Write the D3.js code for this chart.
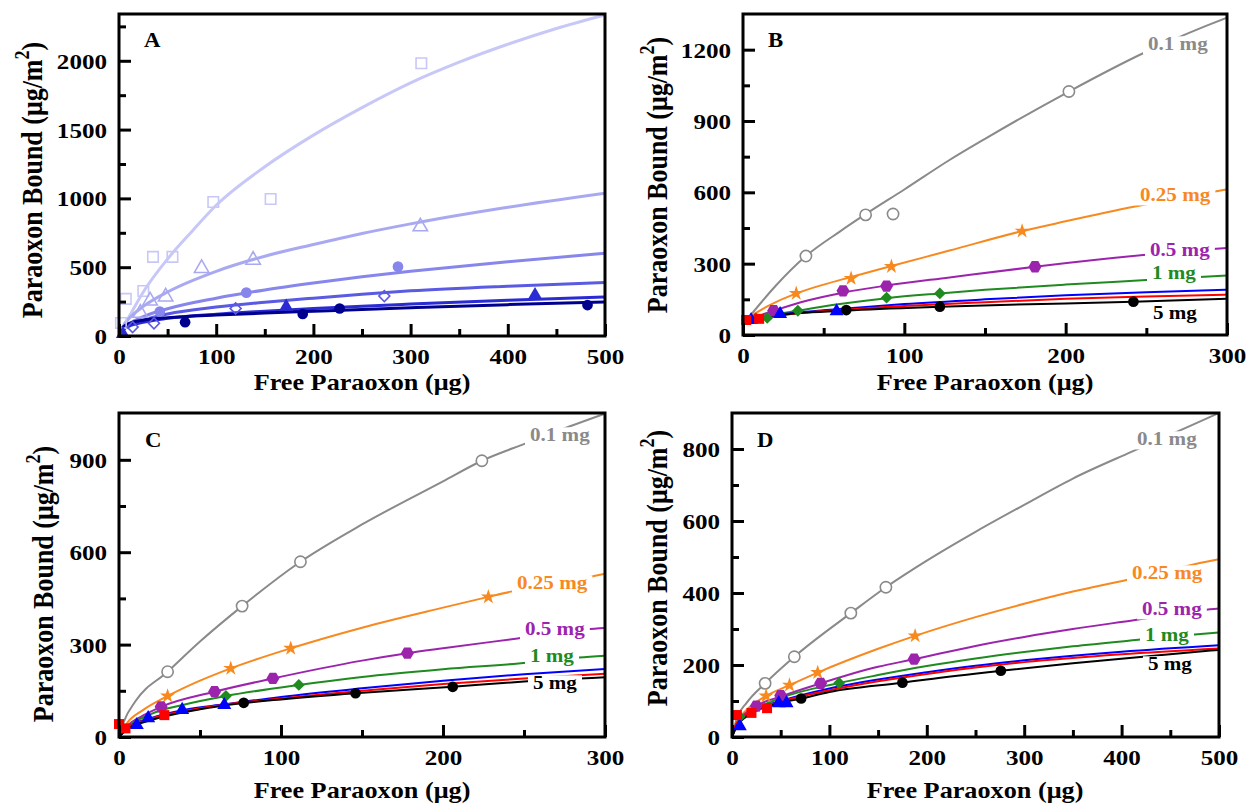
<!DOCTYPE html>
<html>
<head>
<meta charset="utf-8">
<script src="https://cdn.jsdelivr.net/npm/d3@7"></script>
<style>
  body { margin: 0; background: #fff; }
  svg { display: block; }
  svg text { font-family: 'Liberation Serif', 'Times New Roman', serif; font-weight: bold; }
</style>
</head>
<body>
<div id="chart"></div>
<script>
// ---------- data ----------

// Panel A: six loadings, lightest to darkest blue
const fitsA = [
  [[0,0],[5,70],[10,135],[25,320],[50,560],[75,760],[100,950],[150,1230],[200,1460],[250,1660],[300,1840],[350,1990],[400,2120],[450,2235],[500,2334]],
  [[0,0],[5,80],[10,125],[25,215],[50,320],[100,470],[150,580],[200,665],[250,745],[300,815],[400,935],[500,1037]],
  [[0,0],[5,55],[10,85],[25,140],[50,198],[100,275],[150,335],[200,385],[250,430],[300,470],[400,540],[500,601]],
  [[0,0],[5,50],[10,75],[25,115],[50,160],[100,210],[150,245],[200,275],[250,303],[300,328],[400,362],[500,388]],
  [[0,0],[3,40],[10,70],[25,100],[50,128],[100,158],[150,180],[200,200],[250,217],[300,232],[400,260],[500,283]],
  [[0,0],[3,55],[10,90],[25,115],[50,132],[100,152],[150,167],[200,180],[250,193],[300,205],[400,228],[500,248]]
];
const ptsA = [
  [[2,95],[7,270],[25,327],[35,575],[55,575],[97,974],[156,996],[311,1982]],
  [[22,167],[32,256],[48,285],[85,492],[138,552],[310,795]],
  [[42,177],[131,315],[287,504]],
  [[14,65],[36,92],[120,200],[273,290]],
  [[4,15],[172,213],[428,298]],
  [[68,100],[189,160],[227,200],[482,225]]
];

// Panels B-D: seven loadings
const seriesLabels = ["0.1 mg", "0.25 mg", "0.5 mg", "1 mg", "", "", "5 mg"];

const fitsB = [
  [[4,77],[20,205],[39,332],[60,435],[76,508],[100,612],[128,736],[150,825],[202,1024],[248,1185],[287,1300],[300,1335]],
  [[3,72],[15,120],[33,175],[50,212],[67,244],[92,290],[128,355],[173,437],[200,478],[243,540],[290,600],[300,612]],
  [[3,65],[19,102],[40,145],[62,178],[89,208],[128,242],[181,287],[248,336],[291,362],[300,366]],
  [[3,60],[8,68],[15,80],[34,102],[60,130],[89,155],[122,175],[150,190],[200,212],[250,231],[283,244],[300,250]],
  [[3,62],[10,72],[25,88],[58,108],[100,130],[150,150],[200,167],[250,180],[300,190]],
  [[2,60],[10,68],[30,88],[60,105],[100,122],[150,138],[200,152],[250,162],[300,170]],
  [[2,58],[20,82],[64,103],[122,119],[200,133],[242,140],[300,152]]
];
const ptsB = [
  [[39,332],[76,505],[93,509],[202,1024]],
  [[33,175],[67,238],[92,288],[173,437]],
  [[19,102],[62,186],[89,206],[181,287]],
  [[8,70],[15,72],[34,102],[89,157],[122,175]],
  [[5,63],[23,88],[58,100]],
  [[2,63],[10,68]],
  [[64,105],[122,119],[242,140]]
];

const fitsC = [
  [[0,0],[3,50],[10,115],[30,212],[50,310],[76,425],[112,569],[150,690],[200,830],[224,897],[252,955],[278,1008],[300,1050]],
  [[0,0],[5,45],[15,88],[30,133],[50,183],[69,223],[106,288],[150,355],[200,420],[228,455],[242,472],[291,520],[300,530]],
  [[0,0],[5,35],[15,70],[26,98],[59,147],[95,190],[150,248],[178,272],[200,288],[246,320],[289,350],[300,354]],
  [[0,0],[5,30],[20,75],[40,105],[66,133],[111,169],[150,195],[200,220],[252,241],[284,258],[300,264]],
  [[0,0],[5,28],[20,62],[40,88],[65,106],[100,130],[150,158],[200,183],[250,204],[300,221]],
  [[0,0],[5,30],[20,60],[50,93],[100,125],[150,150],[200,172],[250,190],[300,205]],
  [[0,0],[5,25],[20,55],[50,90],[77,110],[100,122],[146,142],[206,163],[250,180],[300,194]]
];
const ptsC = [
  [[30,212],[76,425],[112,569],[224,897]],
  [[30,133],[69,223],[106,288],[228,455]],
  [[26,98],[59,147],[95,190],[178,272]],
  [[66,133],[111,169]],
  [[11,39],[18,61],[39,88],[65,104]],
  [[0,42],[4,28],[28,71]],
  [[77,111],[146,142],[206,163]]
];

const fitsD = [
  [[0,0],[5,52],[15,95],[34,149],[64,223],[122,344],[158,416],[200,490],[250,570],[300,645],[350,718],[410,792],[467,860],[500,900]],
  [[0,0],[5,42],[15,75],[35,114],[59,144],[88,179],[150,245],[188,281],[250,333],[300,370],[350,404],[405,436],[487,487],[500,494]],
  [[0,0],[5,38],[20,78],[52,114],[91,149],[150,195],[187,216],[250,253],[300,278],[350,300],[414,325],[484,353],[500,357]],
  [[0,0],[5,32],[20,70],[50,108],[110,150],[150,172],[200,197],[250,218],[300,236],[350,252],[417,270],[472,284],[500,290]],
  [[0,0],[5,35],[20,70],[50,100],[100,135],[150,160],[200,180],[250,198],[300,213],[400,237],[500,255]],
  [[0,0],[5,40],[20,70],[50,98],[100,130],[150,155],[200,175],[250,193],[300,208],[400,230],[500,246]],
  [[0,0],[5,30],[20,65],[50,95],[71,107],[100,125],[175,151],[200,160],[276,184],[350,205],[422,223],[475,236],[500,242]]
];
const ptsD = [
  [[34,149],[64,223],[122,344],[158,416]],
  [[35,114],[59,144],[88,179],[188,281]],
  [[25,86],[50,115],[91,149],[187,216]],
  [[8,56],[110,150]],
  [[8,30],[48,94],[56,94]],
  [[5,61],[20,67],[36,80]],
  [[71,107],[175,151],[276,184]]
];

// tick values
const xTicks500 = [0,100,200,300,400,500], xMinor500 = [50,150,250,350,450];
const xTicks300 = [0,100,200,300], xMinor300 = [50,150,250];
const yTicksA = [0,500,1000,1500,2000], yMinorA = [250,750,1250,1750,2250];
const yTicksB = [0,300,600,900,1200], yMinorB = [150,450,750,1050];
const yTicksC = [0,300,600,900], yMinorC = [150,450,750];
const yTicksD = [0,200,400,600,800], yMinorD = [100,300,500,700];

// ---------- styles ----------
const SX = 1.14;  // the source figure is stretched sideways
const colorsA = ["#c8c8f8", "#a9a9f2", "#8686ec", "#5a5ae2", "#2b2bd4", "#00008e"];
const markersA = ["squareOpen", "triangleOpen", "circle", "diamondOpen", "triangle", "circle"];
const colorsBCD = ["#8a8a8a", "#f7891f", "#9c24ad", "#1f8a1f", "#0000ff", "#ff0000", "#000000"];
const markersBCD = ["circleOpen", "star", "hexagon", "diamond", "triangle", "square", "circle"];

const symbolHexagon = {
  draw(ctx, size) {
    const r = Math.sqrt(size / (1.5 * Math.sqrt(3)));
    for (let i = 0; i < 6; i++) {
      const a = Math.PI / 3 * i;
      if (i === 0) ctx.moveTo(r * Math.cos(a), r * Math.sin(a));
      else ctx.lineTo(r * Math.cos(a), r * Math.sin(a));
    }
    ctx.closePath();
  }
};
const markerStyles = {
  circleOpen:   { type: d3.symbolCircle,   size: 100, open: true },
  circle:       { type: d3.symbolCircle,   size: 90 },
  star:         { type: d3.symbolStar,     size: 70 },
  hexagon:      { type: symbolHexagon,     size: 110 },
  diamond:      { type: d3.symbolSquare,   size: 70, rotate: 45 },
  triangle:     { type: d3.symbolTriangle, size: 85 },
  square:       { type: d3.symbolSquare,   size: 100 },
  squareOpen:   { type: d3.symbolSquare,   size: 110, open: true },
  triangleOpen: { type: d3.symbolTriangle, size: 90, open: true },
  diamondOpen:  { type: d3.symbolSquare,   size: 60, open: true, rotate: 45 }
};

const svg = d3.select("#chart").append("svg")
  .attr("width", 1249)
  .attr("height", 805);

function drawPanel(cfg) {
  const x = d3.scaleLinear().domain([0, cfg.xMax]).range([cfg.left, cfg.right]);
  const y = d3.scaleLinear().domain([0, cfg.yMax]).range([cfg.bottom, cfg.top]);
  const g = svg.append("g");

  g.append("clipPath").attr("id", "clip" + cfg.id)
    .append("rect")
    .attr("x", cfg.left).attr("y", cfg.top)
    .attr("width", cfg.right - cfg.left).attr("height", cfg.bottom - cfg.top);

  const line = d3.line()
    .x(d => x(d[0]))
    .y(d => y(d[1]))
    .curve(d3.curveMonotoneX);

  // fitted curves
  const lines = g.append("g").attr("clip-path", `url(#clip${cfg.id})`);
  cfg.fits.forEach((f, i) => {
    lines.append("path")
      .attr("d", line(f))
      .attr("fill", "none")
      .attr("stroke", cfg.colors[i])
      .attr("stroke-width", cfg.lineWidth);
  });

  // series labels, knocked out of the lines
  if (cfg.labelPos) {
    const fs = 18.5;
    cfg.labelPos.forEach((p, i) => {
      if (!p || !seriesLabels[i]) return;
      const grp = g.append("g");
      const t = grp.append("text")
        .attr("transform", `translate(${p[0]},${p[1]}) scale(${SX},1)`)
        .attr("font-size", fs)
        .attr("fill", cfg.colors[i])
        .text(seriesLabels[i]);
      const bb = t.node().getBBox();
      grp.insert("rect", "text")
        .attr("x", p[0] + bb.x * SX - 5)
        .attr("y", p[1] - 0.74 * fs)
        .attr("width", bb.width * SX + 10)
        .attr("height", 0.98 * fs)
        .attr("fill", "#fff");
    });
  }

  // data markers
  cfg.pts.forEach((pts, i) => {
    const st = markerStyles[cfg.markers[i]];
    const sym = d3.symbol().type(st.type).size(st.size);
    g.append("g").selectAll("path")
      .data(pts)
      .join("path")
      .attr("d", sym)
      .attr("transform", d => `translate(${x(d[0])},${y(d[1])})` + (st.rotate ? ` rotate(${st.rotate})` : ""))
      .attr("fill", st.open ? cfg.openFill : cfg.colors[i])
      .attr("stroke", cfg.colors[i])
      .attr("stroke-width", st.open ? 1.6 : 0);
  });

  // axes: ticks point inward
  const styleAxis = sel => {
    sel.select(".domain").remove();
    sel.selectAll("line").attr("stroke-width", 3);
    sel.attr("font-family", null).attr("font-size", 22);
  };
  const xMinorAxis = g.append("g").attr("transform", `translate(0,${cfg.bottom})`)
    .call(d3.axisBottom(x).tickValues(cfg.xMinor).tickSize(-7).tickFormat(""));
  styleAxis(xMinorAxis);
  const xAxis = g.append("g").attr("transform", `translate(0,${cfg.bottom})`)
    .call(d3.axisBottom(x).tickValues(cfg.xTicks).tickSize(-12).tickFormat(d3.format("d")));
  styleAxis(xAxis);
  xAxis.selectAll("text")
    .attr("y", null).attr("dy", null)
    .attr("transform", `translate(0,28) scale(${SX},1)`);

  const yMinorAxis = g.append("g").attr("transform", `translate(${cfg.left},0)`)
    .call(d3.axisLeft(y).tickValues(cfg.yMinor).tickSize(-7).tickFormat(""));
  styleAxis(yMinorAxis);
  const yAxis = g.append("g").attr("transform", `translate(${cfg.left},0)`)
    .call(d3.axisLeft(y).tickValues(cfg.yTicks).tickSize(-12).tickFormat(d3.format("d")));
  styleAxis(yAxis);
  yAxis.selectAll("text")
    .attr("x", null).attr("dy", "0.34em")
    .attr("transform", `translate(-12,0) scale(${SX},1)`);

  // frame
  g.append("rect")
    .attr("x", cfg.left).attr("y", cfg.top)
    .attr("width", cfg.right - cfg.left).attr("height", cfg.bottom - cfg.top)
    .attr("fill", "none").attr("stroke", "#000").attr("stroke-width", 3);

  // panel letter
  g.append("text")
    .attr("transform", `translate(${cfg.letterPos[0]},${cfg.letterPos[1]}) scale(${SX},1)`)
    .attr("font-size", 20)
    .text(cfg.letter);

  // axis titles
  g.append("text")
    .attr("transform", `translate(${cfg.xTitle[0]},${cfg.xTitle[1]}) scale(${SX},1)`)
    .attr("text-anchor", "middle")
    .attr("font-size", 23)
    .text("Free Paraoxon (μg)");

  const yt = g.append("text")
    .attr("transform", `translate(${cfg.yTitle[0]},${cfg.yTitle[1]}) scale(${SX},1) rotate(-90)`)
    .attr("text-anchor", "middle")
    .attr("font-size", 26);
  yt.append("tspan").text("Paraoxon Bound (μg/m");
  yt.append("tspan").attr("dy", -11).attr("font-size", 18).text("2");
  yt.append("tspan").attr("dy", 11).text(")");
}

drawPanel({
  id: "A", left: 119, right: 605, top: 14, bottom: 336, xMax: 500, yMax: 2340,
  xTicks: xTicks500, xMinor: xMinor500, yTicks: yTicksA, yMinor: yMinorA,
  fits: fitsA, pts: ptsA, colors: colorsA, markers: markersA, openFill: "none", lineWidth: 3,
  letter: "A", letterPos: [144, 47], xTitle: [362, 390], yTitle: [42, 180]
});
drawPanel({
  id: "B", left: 743, right: 1227, top: 14, bottom: 335, xMax: 300, yMax: 1350,
  xTicks: xTicks300, xMinor: xMinor300, yTicks: yTicksB, yMinor: yMinorB,
  fits: fitsB, pts: ptsB, colors: colorsBCD, markers: markersBCD, openFill: "#fff", lineWidth: 2,
  labelPos: [[1148, 50], [1140, 201], [1150, 256], [1152, 279], null, null, [1153, 319]],
  letter: "B", letterPos: [768, 47], xTitle: [985, 390], yTitle: [667, 175]
});
drawPanel({
  id: "C", left: 119, right: 605, top: 413, bottom: 737, xMax: 300, yMax: 1052,
  xTicks: xTicks300, xMinor: xMinor300, yTicks: yTicksC, yMinor: yMinorC,
  fits: fitsC, pts: ptsC, colors: colorsBCD, markers: markersBCD, openFill: "#fff", lineWidth: 2,
  labelPos: [[530, 441], [517, 589], [525, 635], [530, 662], null, null, [533, 689]],
  letter: "C", letterPos: [145, 447], xTitle: [362, 798], yTitle: [53, 584]
});
drawPanel({
  id: "D", left: 732, right: 1219, top: 413, bottom: 737, xMax: 500, yMax: 900,
  xTicks: xTicks500, xMinor: xMinor500, yTicks: yTicksD, yMinor: yMinorD,
  fits: fitsD, pts: ptsD, colors: colorsBCD, markers: markersBCD, openFill: "#fff", lineWidth: 2,
  labelPos: [[1137, 445], [1132, 579], [1142, 615], [1145, 641], null, null, [1148, 670]],
  letter: "D", letterPos: [757, 447], xTitle: [975, 798], yTitle: [667, 568]
});
</script>
</body>
</html>
